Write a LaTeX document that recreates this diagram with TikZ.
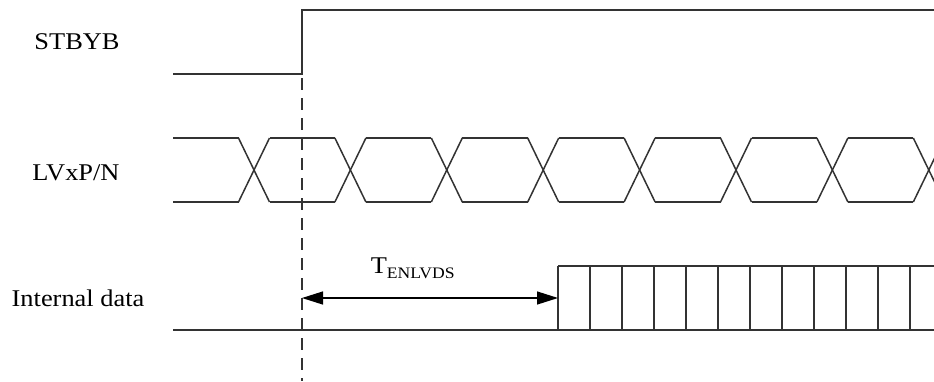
\documentclass[tikz,border=0pt]{standalone}
\usepackage{fontspec}
\setmainfont{Liberation Serif}[FakeStretch=1.1]
\usetikzlibrary{arrows.meta}
\begin{document}
\begin{tikzpicture}[x=1pt, y=-1pt, line width=1.5pt, color=black!80,
  lbl/.style={anchor=base, inner sep=0pt, font=\fontsize{24}{28}\selectfont, text=black},
  edge/.style={dash pattern=on 12pt off 8pt}]
\useasboundingbox (0,0) rectangle (934,381);
% signal names
\node[lbl] (nstb) at (77,49) {STBYB};
\node[lbl] (nlv) at (76,180) {LVxP/N};
\node[lbl] (ndat) at (78,306) {Internal data};
% STBYB
\coordinate (s0) at (173,74);
\coordinate (s1) at (302,74);
\coordinate (s2) at (302,10);
\coordinate (s3) at (934,10);
\draw (s0) -- (s1) -- (s2) -- (s3);
\coordinate (e0) at (302,78);
\coordinate (e1) at (302,381);
\draw[edge, line width=1.3pt] (e0) -- (e1);
% LVxP/N
\coordinate (h0) at (173,138);
\coordinate (l0) at (173,202);
\foreach \k in {0,...,7}{
  \pgfmathsetmacro{\cx}{254+96.4*\k}
  \draw (\cx-15.5,138) -- (\cx+15.5,202);
  \draw (\cx-15.5,202) -- (\cx+15.5,138);
}
\draw (h0) -- (238.5,138);
\draw (l0) -- (238.5,202);
\foreach \k in {0,...,6}{
  \pgfmathsetmacro{\ca}{254+96.4*\k+15.5}
  \pgfmathsetmacro{\cb}{254+96.4*(\k+1)-15.5}
  \draw (\ca,138) -- (\cb,138);
  \draw (\ca,202) -- (\cb,202);
}
% internal data
\coordinate (d0) at (173,330);
\coordinate (d1) at (934,330);
\coordinate (d2) at (558,266);
\coordinate (d3) at (934,266);
\draw (d0) -- (d1);
\draw (d2) -- (d3);
\foreach \k in {0,...,11}
  \draw (558+32*\k,266) -- (558+32*\k,330);
% delay
\coordinate (a0) at (302,298);
\coordinate (a1) at (558,298);
\draw[{Triangle[length=21pt,width=13pt]}-{Triangle[length=21pt,width=13pt]}, line width=1.3pt, color=black] (a0) -- (a1);
\node[anchor=base west, inner sep=0pt, font=\fontsize{24}{28}\selectfont, text=black] (tdl) at (370,273)
  {T\raisebox{-5pt}{\fontsize{16}{16}\selectfont ENLVDS}};
\end{tikzpicture}
\end{document}
